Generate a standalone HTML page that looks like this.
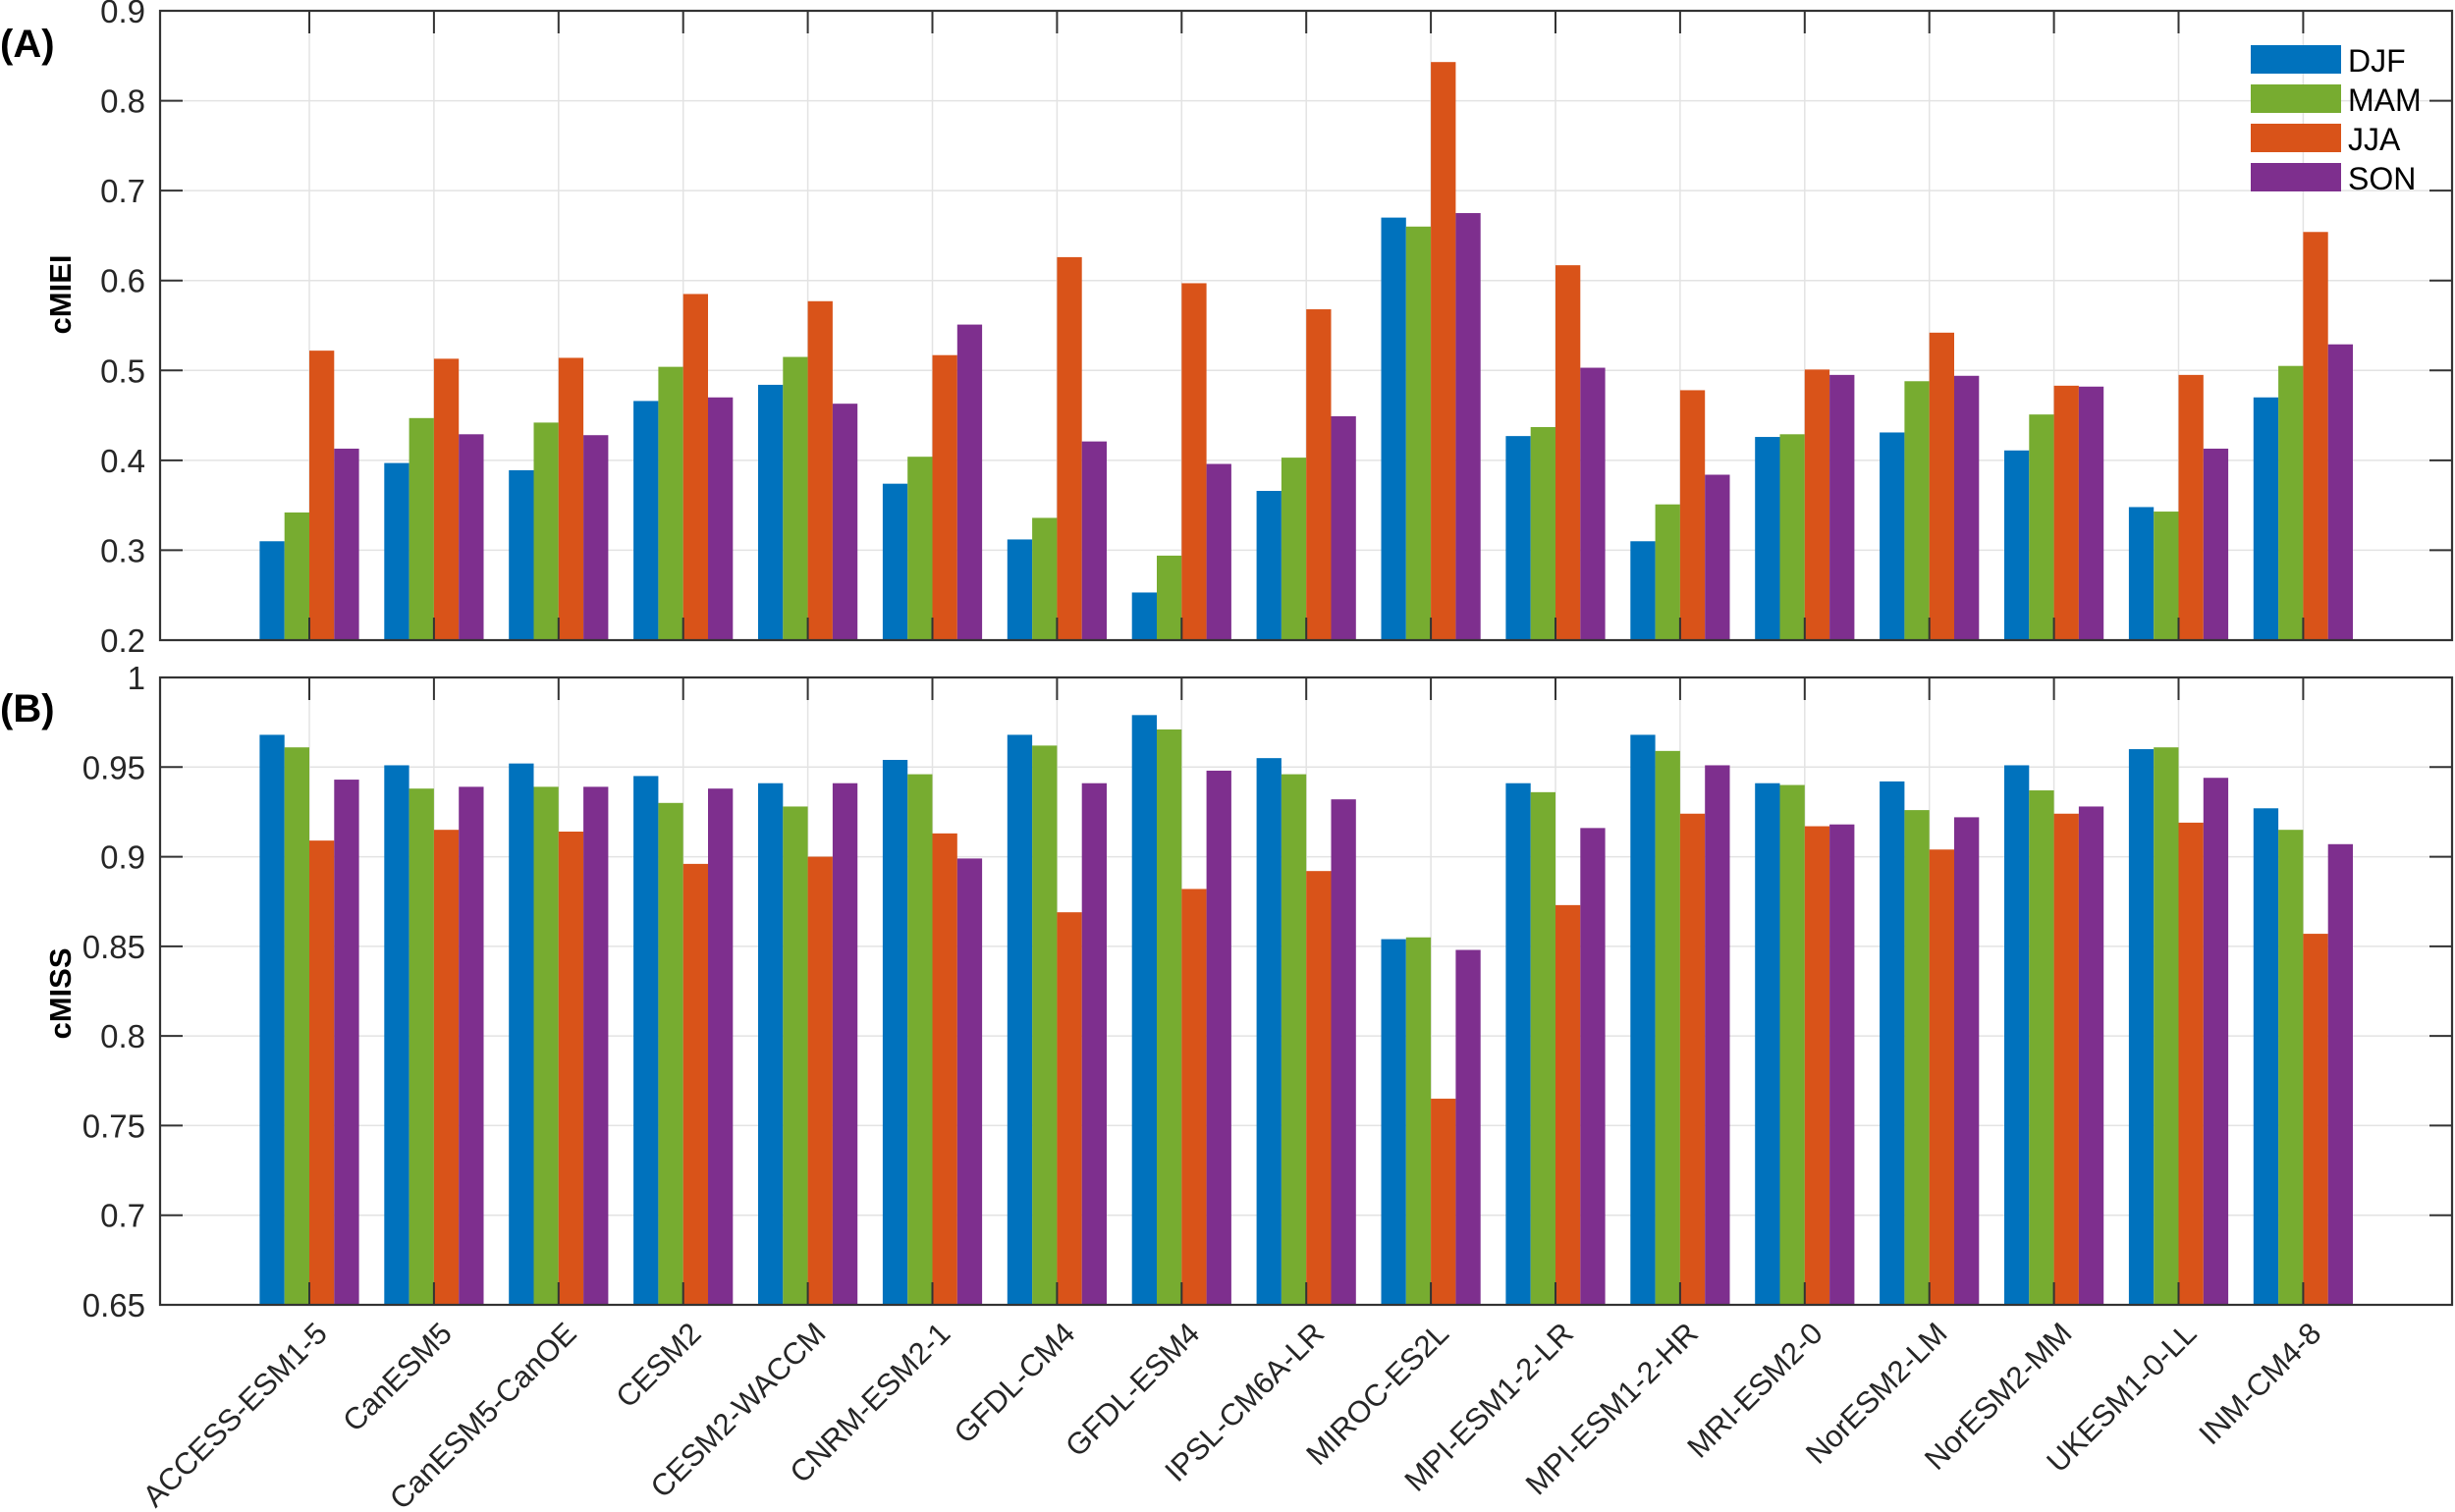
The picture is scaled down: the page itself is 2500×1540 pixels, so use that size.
<!DOCTYPE html>
<html><head><meta charset="utf-8"><style>
html,body{margin:0;padding:0;background:#fff;}
svg{display:block;font-family:"Liberation Sans",Arial,sans-serif;}
</style></head><body>
<svg id="s" width="2500" height="1540" xmlns="http://www.w3.org/2000/svg"></svg>
<script>
const A=[[.31,.342,.522,.413],[.397,.447,.513,.429],[.389,.442,.514,.428],[.466,.504,.585,.47],[.484,.515,.577,.463],[.374,.404,.517,.551],[.312,.336,.626,.421],[.253,.294,.597,.396],[.366,.403,.568,.449],[.67,.66,.843,.675],[.427,.437,.617,.503],[.31,.351,.478,.384],[.426,.429,.501,.495],[.431,.488,.542,.494],[.411,.451,.483,.482],[.348,.343,.495,.413],[.47,.505,.654,.529]];
const B=[[.968,.961,.909,.943],[.951,.938,.915,.939],[.952,.939,.914,.939],[.945,.930,.896,.938],[.941,.928,.900,.941],[.954,.946,.913,.899],[.968,.962,.869,.941],[.979,.971,.882,.948],[.955,.946,.892,.932],[.854,.855,.765,.848],[.941,.936,.873,.916],[.968,.959,.924,.951],[.941,.940,.917,.918],[.942,.926,.904,.922],[.951,.937,.924,.928],[.960,.961,.919,.944],[.927,.915,.857,.907]];
const names=["ACCESS-ESM1-5","CanESM5","CanESM5-CanOE","CESM2","CESM2-WACCM","CNRM-ESM2-1","GFDL-CM4","GFDL-ESM4","IPSL-CM6A-LR","MIROC-ES2L","MPI-ESM1-2-LR","MPI-ESM1-2-HR","MRI-ESM2-0","NorESM2-LM","NorESM2-MM","UKESM1-0-LL","INM-CM4-8"];
const C=["#0072bd","#77ac30","#d95319","#7e2f8e"];
const L=163,R=2497,cx=i=>315+126.9*i,bw=25.3;
let o="";
function panel(data,top,bot,y0,y1,step,lbl,dec,lblY){
  const y=v=>bot-(v-y0)/(y1-y0)*(bot-top);
  for(let i=0;i<17;i++)o+=`<line x1="${cx(i)}" y1="${top}" x2="${cx(i)}" y2="${bot}" stroke="#e3e3e3" stroke-width="1.5"/>`;
  const n=Math.round((y1-y0)/step);
  for(let k=0;k<=n;k++){const v=y0+k*step,yy=y(v);
    o+=`<line x1="${L}" y1="${yy}" x2="${R}" y2="${yy}" stroke="#e3e3e3" stroke-width="1.5"/>`;}
  data.forEach((d,i)=>d.forEach((v,j)=>{const x=cx(i)-2*bw+j*bw;
    o+=`<rect x="${x}" y="${y(v)}" width="${bw}" height="${bot-y(v)}" fill="${C[j]}"/>`;}));
  for(let k=0;k<=n;k++){const v=y0+k*step,yy=y(v);
    o+=`<line x1="${L}" y1="${yy}" x2="${L+23}" y2="${yy}" stroke="#333" stroke-width="2"/>`;
    o+=`<line x1="${R}" y1="${yy}" x2="${R-23}" y2="${yy}" stroke="#333" stroke-width="2"/>`;
    let t=(+v.toFixed(dec)).toString();
    o+=`<text x="148" y="${yy+12}" font-size="33" text-anchor="end" fill="#262626">${t}</text>`;}
  for(let i=0;i<17;i++){o+=`<line x1="${cx(i)}" y1="${top}" x2="${cx(i)}" y2="${top+23}" stroke="#333" stroke-width="2"/>`;
    o+=`<line x1="${cx(i)}" y1="${bot}" x2="${cx(i)}" y2="${bot-23}" stroke="#333" stroke-width="2"/>`;}
  o+=`<rect x="${L}" y="${top}" width="${R-L}" height="${bot-top}" fill="none" stroke="#333" stroke-width="2.2"/>`;
  o+=`<text x="0" y="0" transform="translate(72,${lblY}) rotate(-90)" font-size="31" font-weight="bold" text-anchor="middle">${lbl}</text>`;
}
panel(A,11,652,0.2,0.9,0.1,"cMIEI",1,300);
panel(B,690,1329,0.65,1.0,0.05,"cMISS",2,1012);
o+=`<text x="0" y="58" font-size="40" font-weight="bold">(A)</text>`;
o+=`<text x="0" y="735" font-size="40" font-weight="bold">(B)</text>`;
names.forEach((nm,i)=>{o+=`<text x="0" y="0" transform="translate(${cx(i)+20},${1360}) rotate(-45)" font-size="31" text-anchor="end" fill="#262626">${nm}</text>`;});
["DJF","MAM","JJA","SON"].forEach((s,j)=>{const yy=46+j*40;
  o+=`<rect x="2292" y="${yy}" width="92" height="29" fill="${C[j]}"/>`;
  o+=`<text x="2391" y="${yy+27}" font-size="32">${s}</text>`;});
document.getElementById("s").innerHTML=o;
</script>
</body></html>
